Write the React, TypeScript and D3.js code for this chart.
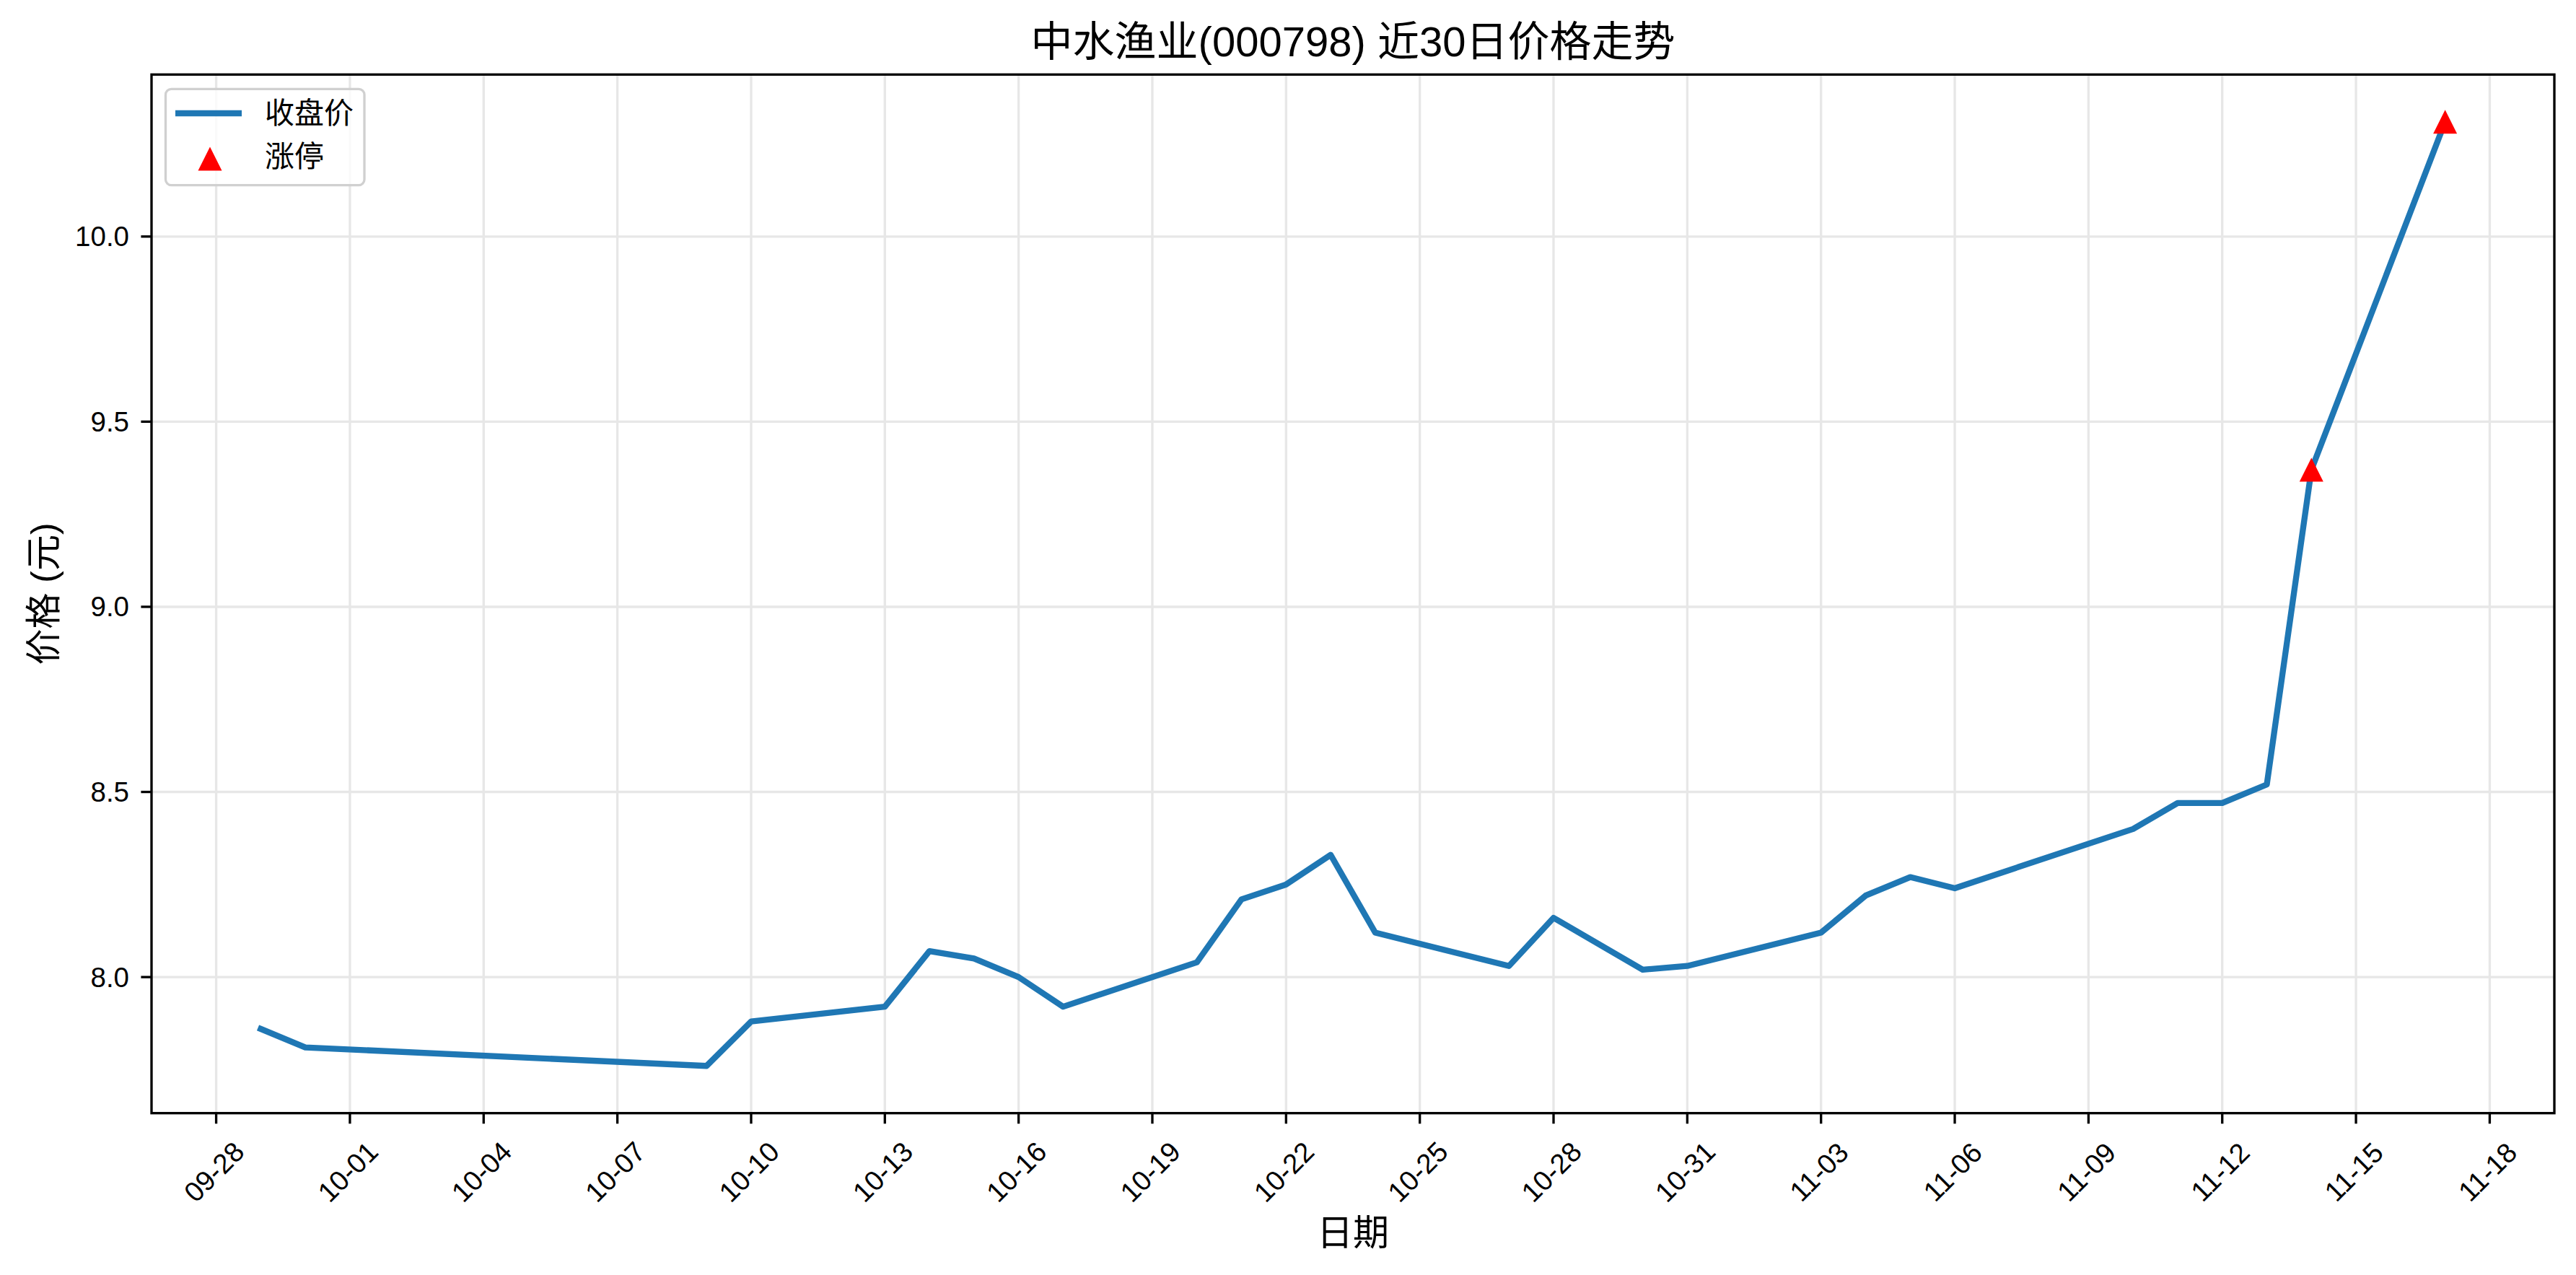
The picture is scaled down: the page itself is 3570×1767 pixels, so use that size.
import React, { useEffect } from "react";
import * as d3 from "d3";

// ---- data ----
const YEAR = 2025;
const tradeDates = [
  "09-29", "09-30", "10-09", "10-10", "10-13", "10-14", "10-15", "10-16", "10-17",
  "10-20", "10-21", "10-22", "10-23", "10-24", "10-27", "10-28", "10-30", "10-31",
  "11-03", "11-04", "11-05", "11-06", "11-10", "11-11", "11-12", "11-13", "11-14", "11-17",
];
const closePrices = [
  7.86, 7.81, 7.76, 7.88, 7.92, 8.07, 8.05, 8.0, 7.92,
  8.04, 8.21, 8.25, 8.33, 8.12, 8.03, 8.16, 8.02, 8.03,
  8.12, 8.22, 8.27, 8.24, 8.4, 8.47, 8.47, 8.52, 9.37, 10.31,
];
const limitUpDates = ["11-14", "11-17"];
const xTickLabels = [
  "09-28", "10-01", "10-04", "10-07", "10-10", "10-13", "10-16", "10-19", "10-22",
  "10-25", "10-28", "10-31", "11-03", "11-06", "11-09", "11-12", "11-15", "11-18",
];
const yTickValues = [8.0, 8.5, 9.0, 9.5, 10.0];

const titleText = "中水渔业(000798) 近30日价格走势";
const xLabelText = "日期";
const yLabelText = "价格 (元)";
const legendLabels = ["收盘价", "涨停"];

// ---- layout ----
const W = 3570;
const H = 1767;
const left = 210;
const right = 3540;
const top = 103.3;
const bottom = 1542.7;
const FONT = "'Liberation Sans', Arial, 'Noto Sans CJK SC', sans-serif";
const LINE_COLOR = "#1f77b4";

const parseMD = (s: string) => {
  const [m, d] = s.split("-").map(Number);
  return new Date(YEAR, m - 1, d);
};

export default function App() {
  useEffect(() => {
    document.body.style.margin = "0";
    document.body.style.overflow = "hidden";
  }, []);

  const points = tradeDates.map((d, i) => ({ date: parseMD(d), value: closePrices[i], key: d }));
  const limitPoints = points.filter((p) => limitUpDates.includes(p.key));

  const [dMin, dMax] = d3.extent(points, (p) => p.date.getTime()) as [number, number];
  const dPad = (dMax - dMin) * 0.05;
  const x = d3.scaleTime().domain([new Date(dMin - dPad), new Date(dMax + dPad)]).range([left, right]);

  const [vMin, vMax] = d3.extent(points, (p) => p.value) as [number, number];
  const vPad = (vMax - vMin) * 0.05;
  const y = d3.scaleLinear().domain([vMin - vPad, vMax + vPad]).range([bottom, top]);

  const line = d3
    .line<{ date: Date; value: number }>()
    .x((p) => x(p.date))
    .y((p) => y(p.value));

  const triSize = 33;
  const tri = (cx: number, cy: number, s: number) =>
    `M${cx},${cy - s / 2} L${cx + s / 2},${cy + s / 2} L${cx - s / 2},${cy + s / 2} Z`;

  const gridColor = "#e7e7e7";
  const tickLen = 14.6;
  const axisW = 3.33;
  const tickFont = 38.5;

  return (
    <svg
      width={W}
      height={H}
      viewBox={`0 0 ${W} ${H}`}
      style={{ position: "absolute", left: 0, top: 0, display: "block", background: "#fff" }}
      fontFamily={FONT}
    >
      <rect x={0} y={0} width={W} height={H} fill="#ffffff" />

      {/* grid */}
      <g>
        {xTickLabels.map((t) => {
          const xx = x(parseMD(t));
          return <line key={"gx" + t} x1={xx} x2={xx} y1={top} y2={bottom} stroke={gridColor} strokeWidth={3.33} />;
        })}
        {yTickValues.map((v) => {
          const yy = y(v);
          return <line key={"gy" + v} x1={left} x2={right} y1={yy} y2={yy} stroke={gridColor} strokeWidth={3.33} />;
        })}
      </g>

      {/* price line */}
      <path
        d={line(points) || ""}
        fill="none"
        stroke={LINE_COLOR}
        strokeWidth={8.33}
        strokeLinejoin="round"
        strokeLinecap="square"
      />

      {/* limit-up markers */}
      {limitPoints.map((p) => (
        <path key={"lu" + p.key} d={tri(x(p.date), y(p.value), triSize)} fill="#ff0000" />
      ))}

      {/* frame */}
      <rect x={left} y={top} width={right - left} height={bottom - top} fill="none" stroke="#000" strokeWidth={axisW} />

      {/* x ticks */}
      {xTickLabels.map((t) => {
        const xx = x(parseMD(t));
        return (
          <g key={"xt" + t}>
            <line x1={xx} x2={xx} y1={bottom} y2={bottom + tickLen} stroke="#000" strokeWidth={axisW} />
            <text
              transform={`translate(${xx - 3},${1624}) rotate(-45)`}
              textAnchor="middle"
              dominantBaseline="central"
              fontSize={tickFont}
              fill="#000"
            >
              {t}
            </text>
          </g>
        );
      })}

      {/* y ticks */}
      {yTickValues.map((v) => {
        const yy = y(v);
        return (
          <g key={"yt" + v}>
            <line x1={left - tickLen} x2={left} y1={yy} y2={yy} stroke="#000" strokeWidth={axisW} />
            <text x={179} y={yy} textAnchor="end" dominantBaseline="central" fontSize={tickFont} fill="#000">
              {v.toFixed(1)}
            </text>
          </g>
        );
      })}

      {/* title and axis labels */}
      <text x={(left + right) / 2} y={78} textAnchor="middle" fontSize={58} fill="#000">
        {titleText}
      </text>
      <text x={(left + right) / 2} y={1726} textAnchor="middle" fontSize={50} fill="#000">
        {xLabelText}
      </text>
      <text
        transform={`translate(78,${(top + bottom) / 2}) rotate(-90)`}
        textAnchor="middle"
        fontSize={50}
        fill="#000"
      >
        {yLabelText}
      </text>

      {/* legend */}
      <g>
        <rect
          x={229.5}
          y={123.3}
          width={275.5}
          height={133.4}
          rx={8}
          ry={8}
          fill="#ffffff"
          fillOpacity={0.8}
          stroke="#d0d0d0"
          strokeWidth={3.3}
        />
        <line x1={243} x2={335} y1={157} y2={157} stroke={LINE_COLOR} strokeWidth={8.33} strokeLinecap="butt" />
        <text x={367} y={157} dominantBaseline="central" fontSize={41} fill="#000">
          {legendLabels[0]}
        </text>
        <path d={tri(291, 220, triSize)} fill="#ff0000" />
        <text x={367} y={217} dominantBaseline="central" fontSize={41} fill="#000">
          {legendLabels[1]}
        </text>
      </g>
    </svg>
  );
}
